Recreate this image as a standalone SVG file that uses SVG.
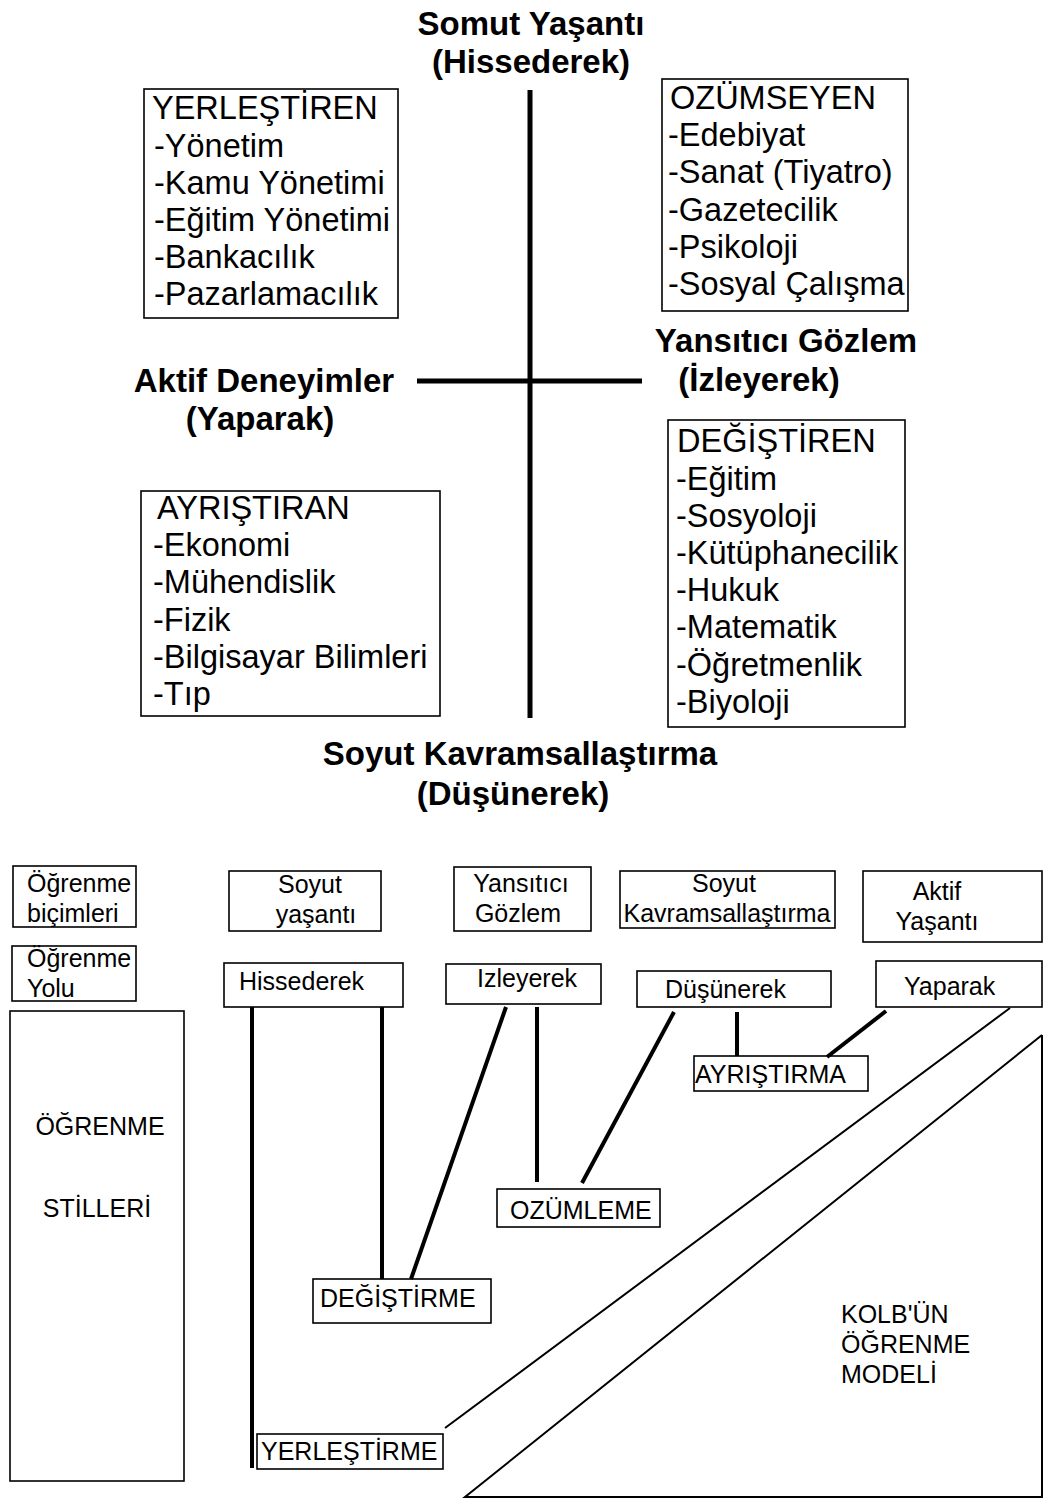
<svg xmlns="http://www.w3.org/2000/svg" width="1043" height="1499" viewBox="0 0 1043 1499">
<style>
.bg{fill:#fff}
.box{fill:#fff;stroke:#000;stroke-width:1.6}
.h{font-family:"Liberation Sans",Arial,sans-serif;font-weight:bold;font-size:33px;fill:#000;text-anchor:middle}
.l{font-family:"Liberation Sans",Arial,sans-serif;font-size:32.5px;fill:#000}
.s{font-family:"Liberation Sans",Arial,sans-serif;font-size:25px;fill:#000}
.c{text-anchor:middle}
.thick{stroke:#000;stroke-width:5;fill:none}
.med{stroke:#000;stroke-width:4;fill:none}
.thin{stroke:#000;stroke-width:2;fill:none}
</style>
<rect class="bg" x="0" y="0" width="1043" height="1499"/>

<!-- Top section headings -->
<g id="head-somut">
<text class="h" x="531" y="35">Somut Yaşantı</text>
<text class="h" x="531" y="73">(Hissederek)</text>
</g>
<g id="head-yansitici">
<text class="h" x="786" y="352">Yansıtıcı Gözlem</text>
<text class="h" x="759" y="391">(İzleyerek)</text>
</g>
<g id="head-aktif">
<text class="h" x="264" y="392">Aktif Deneyimler</text>
<text class="h" x="260" y="430">(Yaparak)</text>
</g>
<g id="head-soyut">
<text class="h" x="520" y="765">Soyut Kavramsallaştırma</text>
<text class="h" x="513" y="805">(Düşünerek)</text>
</g>

<!-- Top boxes -->
<g id="yerlestiren">
<rect class="box" x="144" y="89" width="254" height="229"/>
<text class="l" x="152" y="119">YERLEŞTİREN</text>
<text class="l" x="154" y="157">-Yönetim</text>
<text class="l" x="154" y="194">-Kamu Yönetimi</text>
<text class="l" x="154" y="231">-Eğitim Yönetimi</text>
<text class="l" x="154" y="268">-Bankacılık</text>
<text class="l" x="154" y="305">-Pazarlamacılık</text>
</g>
<g id="ozumseyen">
<rect class="box" x="662" y="79" width="246" height="232"/>
<text class="l" x="670" y="109">OZÜMSEYEN</text>
<text class="l" x="668" y="146">-Edebiyat</text>
<text class="l" x="668" y="183">-Sanat (Tiyatro)</text>
<text class="l" x="668" y="221">-Gazetecilik</text>
<text class="l" x="668" y="258">-Psikoloji</text>
<text class="l" x="668" y="295">-Sosyal Çalışma</text>
</g>
<g id="degistiren">
<rect class="box" x="668" y="420" width="237" height="307"/>
<text class="l" x="677" y="452">DEĞİŞTİREN</text>
<text class="l" x="676" y="490">-Eğitim</text>
<text class="l" x="676" y="527">-Sosyoloji</text>
<text class="l" x="676" y="564">-Kütüphanecilik</text>
<text class="l" x="676" y="601">-Hukuk</text>
<text class="l" x="676" y="638">-Matematik</text>
<text class="l" x="676" y="676">-Öğretmenlik</text>
<text class="l" x="676" y="713">-Biyoloji</text>
</g>
<g id="ayristiran">
<rect class="box" x="141" y="491" width="299" height="225"/>
<text class="l" x="157" y="519">AYRIŞTIRAN</text>
<text class="l" x="153" y="556">-Ekonomi</text>
<text class="l" x="153" y="593">-Mühendislik</text>
<text class="l" x="153" y="631">-Fizik</text>
<text class="l" x="153" y="668">-Bilgisayar Bilimleri</text>
<text class="l" x="153" y="705">-Tıp</text>
</g>

<!-- Bottom boxes -->
<g id="ogrenme-bicimleri">
<rect class="box" x="13" y="866" width="123" height="61"/>
<text class="s" x="27" y="892">Öğrenme</text>
<text class="s" x="27" y="922">biçimleri</text>
</g>
<g id="ogrenme-yolu">
<rect class="box" x="12" y="946" width="124" height="55"/>
<text class="s" x="27" y="967">Öğrenme</text>
<text class="s" x="27" y="997">Yolu</text>
</g>
<g id="ogrenme-stilleri">
<rect class="box" x="10" y="1011" width="174" height="470"/>
<text class="s c" x="100" y="1135">ÖĞRENME</text>
<text class="s c" x="97" y="1217">STİLLERİ</text>
</g>
<g id="soyut-yasanti">
<rect class="box" x="229" y="871" width="152" height="60"/>
<text class="s c" x="310" y="893">Soyut</text>
<text class="s c" x="316" y="923">yaşantı</text>
</g>
<g id="yansitici-gozlem">
<rect class="box" x="454" y="867" width="137" height="64"/>
<text class="s c" x="521" y="892">Yansıtıcı</text>
<text class="s c" x="518" y="922">Gözlem</text>
</g>
<g id="soyut-kavram">
<rect class="box" x="620" y="871" width="215" height="57"/>
<text class="s c" x="724" y="892">Soyut</text>
<text class="s c" x="727" y="922">Kavramsallaştırma</text>
</g>
<g id="aktif-yasanti">
<rect class="box" x="863" y="871" width="179" height="71"/>
<text class="s c" x="937" y="900">Aktif</text>
<text class="s c" x="937" y="930">Yaşantı</text>
</g>
<g id="hissederek">
<rect class="box" x="224" y="963" width="179" height="44"/>
<text class="s" x="239" y="990">Hissederek</text>
</g>
<g id="izleyerek">
<rect class="box" x="446" y="964" width="155" height="40"/>
<text class="s" x="477" y="987">Izleyerek</text>
</g>
<g id="dusunerek">
<rect class="box" x="637" y="971" width="194" height="36"/>
<text class="s" x="665" y="998">Düşünerek</text>
</g>
<g id="yaparak">
<rect class="box" x="876" y="961" width="166" height="46"/>
<text class="s" x="904" y="995">Yaparak</text>
</g>
<g id="ayristirma">
<rect class="box" x="694" y="1056" width="174" height="35"/>
<text class="s" x="695" y="1083">AYRIŞTIRMA</text>
</g>
<g id="ozumleme">
<rect class="box" x="497" y="1189" width="163" height="38"/>
<text class="s" x="510" y="1219">OZÜMLEME</text>
</g>
<g id="degistirme">
<rect class="box" x="313" y="1279" width="178" height="44"/>
<text class="s" x="320" y="1307">DEĞİŞTİRME</text>
</g>
<g id="yerlestirme">
<rect class="box" x="257" y="1434" width="186" height="35"/>
<text class="s" x="261" y="1460">YERLEŞTİRME</text>
</g>
<g id="kolb">
<text class="s" x="841" y="1323">KOLB'ÜN</text>
<text class="s" x="841" y="1353">ÖĞRENME</text>
<text class="s" x="841" y="1383">MODELİ</text>
</g>

<!-- Connectors -->
<g id="connectors">
<line class="thick" x1="530" y1="90" x2="530" y2="718"/>
<line class="thick" x1="417" y1="381" x2="642" y2="381"/>
<line class="med" x1="252" y1="1007" x2="252" y2="1468"/>
<line class="med" x1="382" y1="1007" x2="382" y2="1279"/>
<line class="med" x1="506" y1="1007" x2="411" y2="1279"/>
<line class="med" x1="537" y1="1007" x2="537" y2="1182"/>
<line class="med" x1="674" y1="1012" x2="582" y2="1183"/>
<line class="med" x1="737" y1="1012" x2="737" y2="1056"/>
<line class="med" x1="886" y1="1011" x2="827" y2="1057"/>
<line class="thin" x1="1010" y1="1008" x2="445" y2="1428"/>
<polyline class="thin" points="1042,1035 465,1497 1043,1497"/>
<line class="thin" x1="1042" y1="1035" x2="1042" y2="1497"/>
</g>
</svg>
